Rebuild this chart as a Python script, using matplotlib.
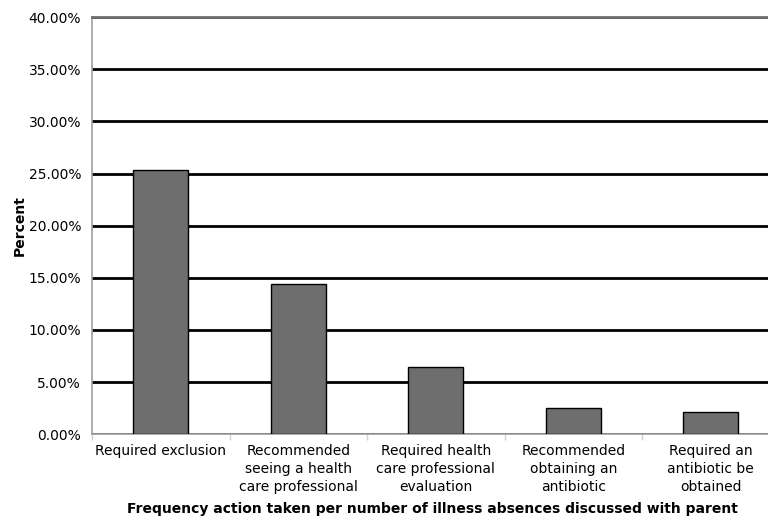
import matplotlib.pyplot as plt
import numpy as np
from matplotlib.ticker import FuncFormatter, FixedLocator

categories = [
    "Required exclusion",
    "Recommended\nseeing a health\ncare professional",
    "Required health\ncare professional\nevaluation",
    "Recommended\nobtaining an\nantibiotic",
    "Required an\nantibiotic be\nobtained",
]
percent_values = [25.3, 14.4, 6.45, 2.55, 2.15]
y_ticks = [0, 5, 10, 15, 20, 25, 30, 35, 40]

fig = plt.figure(figsize=(7.68, 5.17), dpi=100)
ax = fig.add_axes([0.120, 0.160, 0.895, 0.807])

x = np.arange(len(categories))
ax.bar(x, percent_values, width=0.40, color="#6e6e6e", edgecolor="black", linewidth=1.0, zorder=3)

ax.set_xlim(-0.5, len(categories) - 0.5)
ax.set_ylim(0, 40)
ax.set_yticks(y_ticks)
ax.yaxis.set_major_formatter(FuncFormatter(lambda v, _: f"{v:.2f}%"))
ax.yaxis.grid(True, color="black", linewidth=2.0, zorder=1)
ax.tick_params(axis="y", length=0, labelsize=10, pad=8)

ax.set_xticks(x)
ax.set_xticklabels(categories, fontsize=10, linespacing=1.35)
ax.tick_params(axis="x", length=0, pad=7)
ax.xaxis.set_minor_locator(FixedLocator(np.arange(-0.5, len(categories), 1.0)))
ax.tick_params(axis="x", which="minor", length=4, color="#d0d0d0", width=1)

for side in ["left", "bottom"]:
    ax.spines[side].set_color("#a0a0a0")
    ax.spines[side].set_linewidth(1.2)
ax.spines["top"].set_color("#707070")
ax.spines["top"].set_linewidth(2.0)
ax.spines["right"].set_visible(False)

ax.set_ylabel("Percent", fontsize=10, fontweight="bold", labelpad=1)
fig.text(0.563, 1 - 509 / 517, "Frequency action taken per number of illness absences discussed with parent",
         fontsize=10, fontweight="bold", ha="center", va="center")

fig.savefig("out.png", dpi=100)
